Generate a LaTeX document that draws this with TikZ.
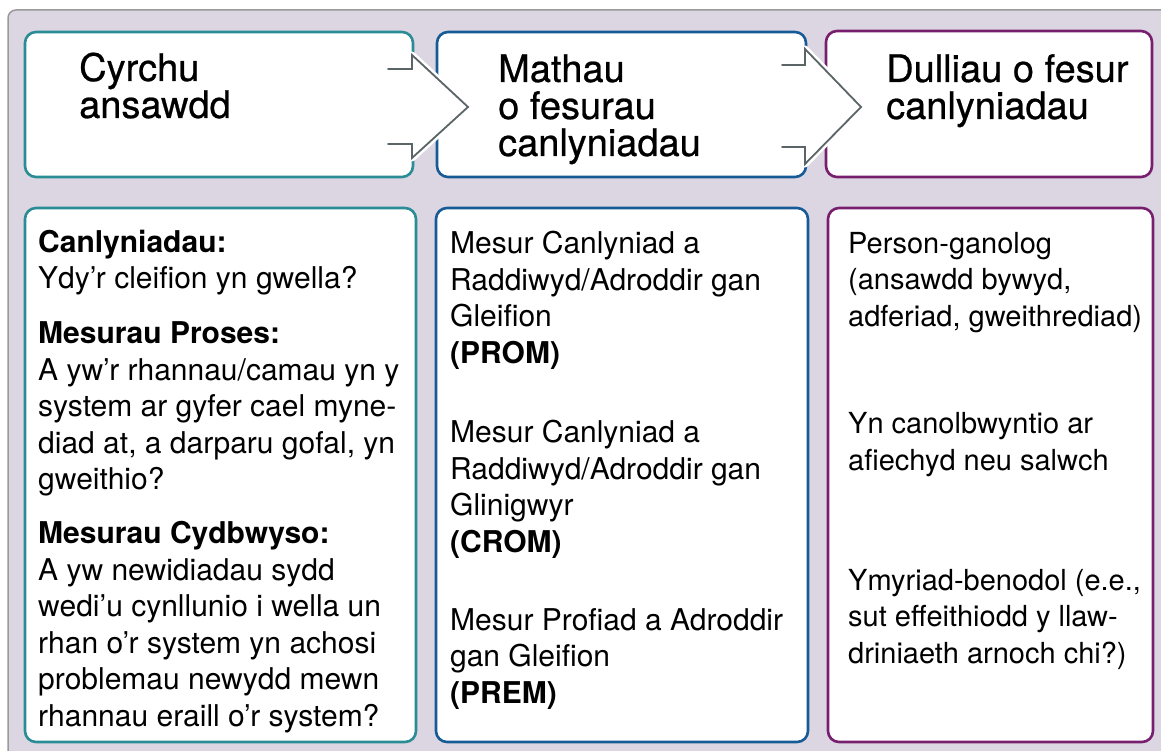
\documentclass[tikz,border=0pt]{standalone}
\usepackage{fontspec}
\setmainfont{TeX Gyre Heros}
\newfontfamily\headfont{TeX Gyre Heros}[FakeBold=0.6]
\usepackage{xcolor}
\usetikzlibrary{positioning}
\definecolor{panelbg}{HTML}{DCD6E3}
\definecolor{panelrule}{HTML}{9A9A9A}
\definecolor{tealrule}{HTML}{2A8C94}
\definecolor{bluerule}{HTML}{165A96}
\definecolor{purplerule}{HTML}{781E6E}
\definecolor{chevgrey}{HTML}{5B6466}

\tikzset{
  stagebox/.style={draw=#1, line width=2.6pt, rounded corners=11pt, fill=white, inner sep=0pt},
  headtxt/.style={anchor=base west, align=left, inner sep=0pt, font=\headfont\fontsize{38}{37}\selectfont},
  bodytxt/.style={anchor=base west, align=left, inner sep=0pt, font=\fontsize{30}{36.5}\selectfont},
  chevron/.style={draw=chevgrey, line width=1.8pt, line join=miter},
}

\begin{document}
\begin{tikzpicture}[line cap=round,line join=round,x=1pt,y=-1pt]
\useasboundingbox (0,0) rectangle (1161,751);
\begin{scope}
\clip (0,0) rectangle (1161,751);
\draw [fill=panelbg, draw=panelrule, line width=1.5pt, rounded corners=8pt] (8,10) rectangle (1185,775);
\end{scope}
% top row
\node [stagebox=tealrule, minimum width=388, minimum height=145] (top1) at (219,104.5) {};
\node [stagebox=bluerule, minimum width=369, minimum height=145] (top2) at (621.5,104.5) {};
\node [stagebox=purplerule, minimum width=326, minimum height=146] (top3) at (989,104) {};
% bottom row
\node [stagebox=tealrule, minimum width=391, minimum height=534] (low1) at (220.5,475) {};
\node [stagebox=bluerule, minimum width=372, minimum height=534] (low2) at (622,475) {};
\node [stagebox=purplerule, minimum width=325, minimum height=534] (low3) at (990.5,475) {};
% chevrons
\fill [white] (388,69) -- (412,69) -- (412,55) -- (468,107) -- (412,158) -- (412,144) -- (388,144) -- cycle;
\draw [white, line width=7pt] (412,55) -- (468,107) -- (412,158);
\draw [chevron] (388,69) -- (412,69) -- (412,55) -- (468,107) -- (412,158) -- (412,144) -- (388,144);
\fill [white] (782,65) -- (805,65) -- (805,49) -- (861,107) -- (805,164) -- (805,147) -- (782,147) -- cycle;
\draw [white, line width=7pt] (805,49) -- (861,107) -- (805,164);
\draw [chevron] (782,65) -- (805,65) -- (805,49) -- (861,107) -- (805,164) -- (805,147) -- (782,147);
% headings (anchored at the last baseline)
\node [headtxt] (head1) at (79,118) {Cyrchu\\ansawdd};
\node [headtxt] (head2) at (498,156) {Mathau\\o fesurau\\canlyniadau};
\node [headtxt] (head3) at (886,119) {Dulliau o fesur\\canlyniadau};
% column 1
\node [bodytxt] (ansawdd) at (38,726) {\textbf{Canlyniadau:}\\Ydy’r cleifion yn gwella?\\[18.5pt]
  \textbf{Mesurau Proses:}\\A yw’r rhannau/camau yn y\\system ar gyfer cael myne-\\diad at, a darparu gofal, yn\\gweithio?\\[17.5pt]
  \textbf{Mesurau Cydbwyso:}\\A yw newidiadau sydd\\wedi’u cynllunio i wella un\\rhan o’r system yn achosi\\problemau newydd mewn\\rhannau eraill o’r system?};
% column 2
\node [bodytxt] (prom) at (450,363) {Mesur Canlyniad a\\Raddiwyd/Adroddir gan\\Gleifion\\\textbf{(PROM)}};
\node [bodytxt] (crom) at (450,552) {Mesur Canlyniad a\\Raddiwyd/Adroddir gan\\Glinigwyr\\\textbf{(CROM)}};
\node [bodytxt] (prem) at (450,703) {Mesur Profiad a Adroddir\\gan Gleifion\\\textbf{(PREM)}};
% column 3
\node [bodytxt, font=\fontsize{29}{36.5}\selectfont] (person) at (848,326) {Person-ganolog\\(ansawdd bywyd,\\adferiad, gweithrediad)};
\node [bodytxt, font=\fontsize{29}{36.5}\selectfont] (salwch) at (848,470) {Yn canolbwyntio ar\\afiechyd neu salwch};
\node [bodytxt, font=\fontsize{29}{36.5}\selectfont] (ymyriad) at (848,663) {Ymyriad-benodol (e.e.,\\sut effeithiodd y llaw-\\driniaeth arnoch chi?)};
\end{tikzpicture}
\end{document}
